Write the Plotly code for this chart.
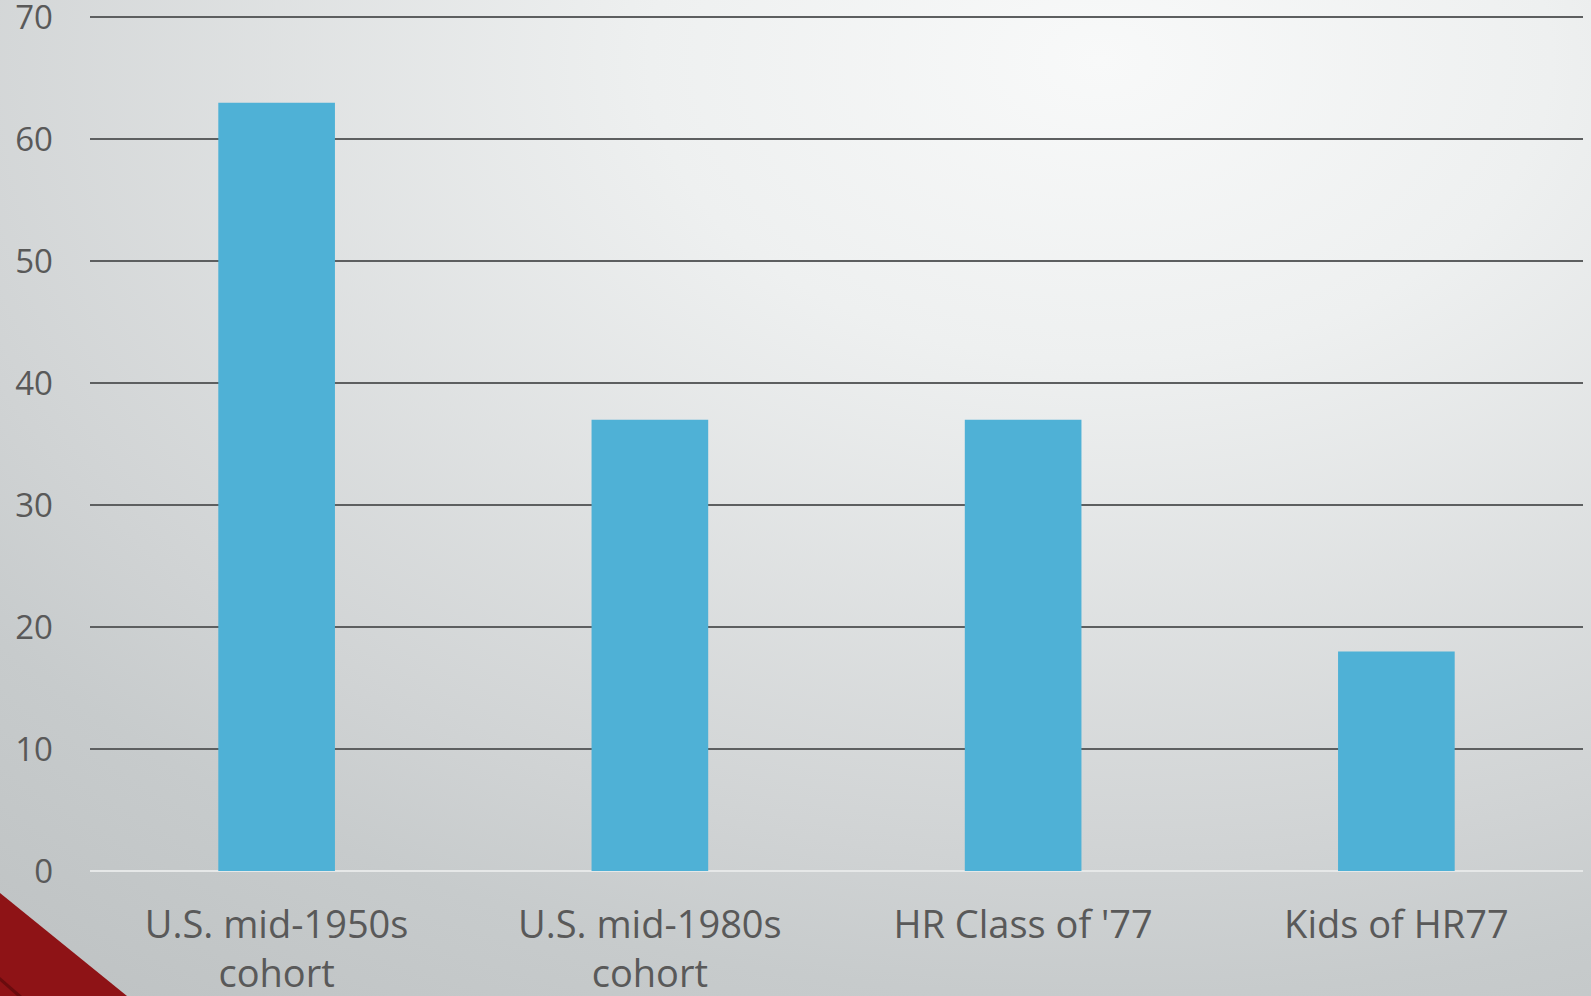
import base64
import plotly.graph_objects as go

categories = ["U.S. mid-1950s<br>cohort", "U.S. mid-1980s<br>cohort", "HR Class of '77", "Kids of HR77"]
values = [63, 37, 37, 18]
y_ticks = [0, 10, 20, 30, 40, 50, 60, 70]

W, H = 1591, 996
ML, MR, MT, MB = 90, 8, 11, 125
PW, PH = W - ML - MR, H - MT - MB
Y_TOP = 70.53  # small headroom so the 70 gridline is not clipped at the edge

svg = f'''<svg xmlns="http://www.w3.org/2000/svg" width="{W}" height="{H}" viewBox="0 0 {W} {H}">
<defs>
<radialGradient id="g" gradientUnits="userSpaceOnUse" cx="0" cy="0" r="1"
 gradientTransform="translate(1100,60) scale(1800,1200)">
<stop offset="0" stop-color="#f8f9f9"/>
<stop offset="0.25" stop-color="#eef0f0"/>
<stop offset="0.667" stop-color="#d0d3d4"/>
<stop offset="0.78" stop-color="#c7cbcc"/>
<stop offset="1" stop-color="#bdc1c2"/>
</radialGradient>
</defs>
<rect x="0" y="0" width="{W}" height="{H}" fill="url(#g)"/>
<polygon points="0,893 0,996 127,996" fill="#8e1316"/>
<polygon points="0,977 0,996 22,996" fill="#6a0c0e"/>
<polygon points="0,981 0,996 17,996" fill="#8e1316"/>
</svg>'''
src = "data:image/svg+xml;base64," + base64.b64encode(svg.encode()).decode()

fig = go.Figure(go.Bar(
    x=categories, y=values,
    marker=dict(color="#4fb1d6", line=dict(width=0)),
))

fig.update_layout(
    width=W, height=H,
    autosize=False,
    margin=dict(l=ML, r=MR, t=MT, b=MB, pad=0, autoexpand=False),
    paper_bgcolor="rgba(0,0,0,0)",
    plot_bgcolor="rgba(0,0,0,0)",
    bargap=0.6875,
    showlegend=False,
    font=dict(family="Open Sans", color="#595959"),
    images=[dict(
        source=src, xref="paper", yref="paper",
        x=-ML / PW, y=1 + MT / PH, sizex=W / PW, sizey=H / PH,
        xanchor="left", yanchor="top", sizing="stretch", layer="below",
    )],
    xaxis=dict(
        showgrid=False, showline=False, zeroline=False, automargin=False,
        tickfont=dict(size=38, color="#595959"),
        ticks="", ticklabelstandoff=28, ticklabeloverflow="allow",
    ),
    yaxis=dict(
        range=[0, Y_TOP], tickvals=y_ticks, automargin=False,
        showgrid=True, gridcolor="#5d5f60", gridwidth=2,
        zeroline=True, zerolinecolor="#e6e8e8", zerolinewidth=2,
        showline=False, ticks="",
        tickfont=dict(size=33, color="#595959"),
        ticklabelstandoff=36, ticklabeloverflow="allow",
    ),
)

fig.write_html("out.html", config={"displayModeBar": False},
               post_script="document.body.style.margin='0';")
